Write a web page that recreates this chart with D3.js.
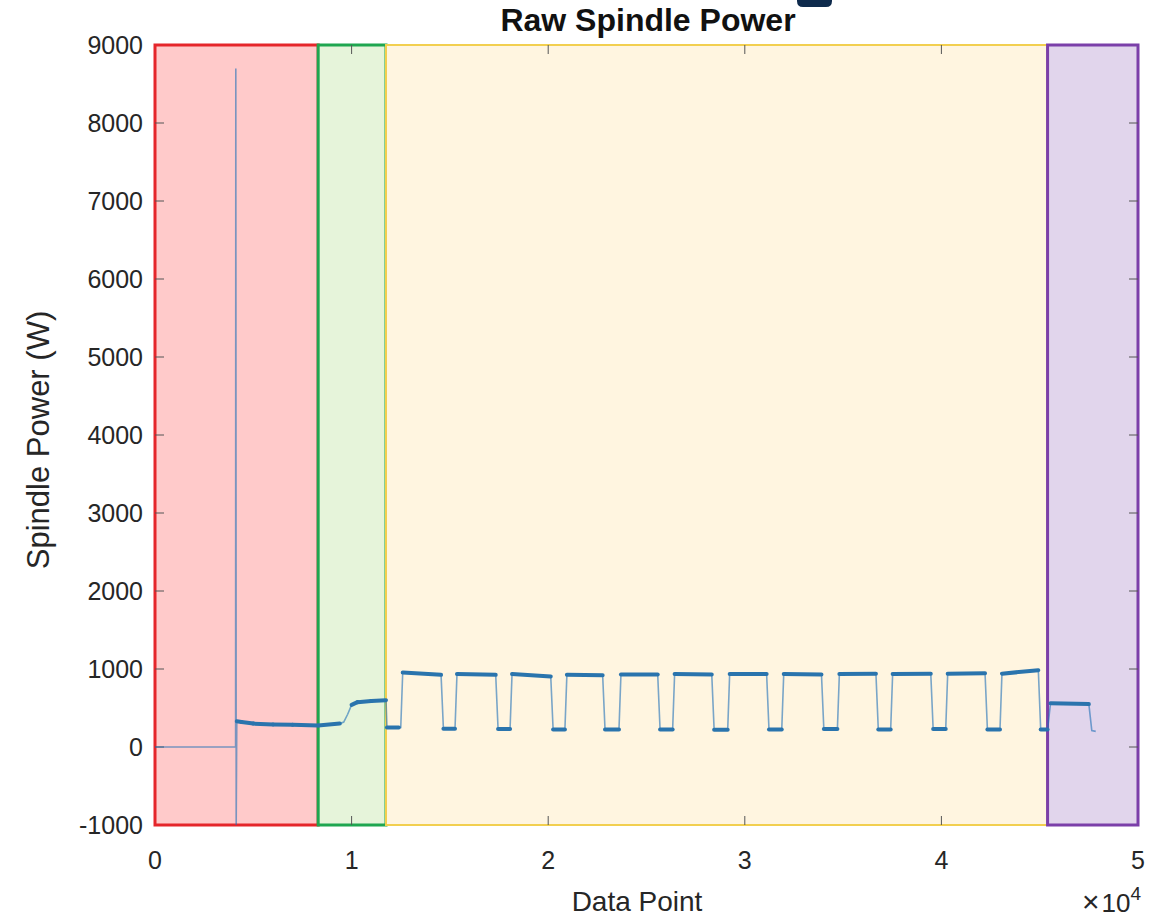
<!DOCTYPE html>
<html><head><meta charset="utf-8">
<script src="https://cdn.jsdelivr.net/npm/d3@7"></script>
<style>body{margin:0;background:#fff}svg{display:block}text{font-family:"Liberation Sans",Arial,sans-serif;fill:#262626}</style>
</head><body>
<script>
// ---- data ----
const titleText = "Raw Spindle Power";
const xLabel = "Data Point";
const yLabel = "Spindle Power (W)";
const xTicks = [0, 10000, 20000, 30000, 40000, 50000];
const yTicks = [-1000, 0, 1000, 2000, 3000, 4000, 5000, 6000, 7000, 8000, 9000];
const regionStart = [0, 8300, 11750, 45400];
const regionEnd   = [8300, 11750, 45400, 50000];
const regionFill  = ["#ffcaca", "#e6f4da", "#fff5e0", "#e1d5ec"];
const regionEdge  = ["#e5262b", "#1fa650", "#f2cf4f", "#7b3fa9"];
// initial segment (idle, spike, warm-up, approach)
const leadX = [0, 4100, 4110, 4130, 4160, 4400, 5000, 6000, 7000, 8300, 9400, 9600, 9800, 10000, 10300, 11000, 11750, 11800, 12400];
const leadY = [0, 0, 8700, -1000, 330, 320, 300, 290, 285, 275, 300, 320, 420, 540, 575, 590, 600, 250, 250];
// cutting pulses
const pulseStart = [12500, 15260, 18060, 20850, 23600, 26330, 29130, 31880, 34710, 37420, 40220, 42980];
const pulseEnd   = [14550, 17330, 20130, 22770, 25570, 28320, 31110, 33900, 36670, 39460, 42220, 44930];
const pulseHighA = [955, 935, 935, 925, 930, 935, 935, 935, 935, 935, 940, 940];
const pulseHighB = [925, 925, 905, 920, 930, 930, 935, 930, 940, 940, 945, 985];
const pulseLow   = [235, 230, 225, 225, 225, 220, 225, 230, 225, 230, 225, 225];
// final segment
const tailX = [45400, 45550, 47500, 47650, 47850];
const tailY = [225, 560, 550, 210, 200];
const noisyFrom = 4160;

// ---- build series ----
const pts = [];
leadX.forEach((x, i) => pts.push([x, leadY[i]]));
pulseStart.forEach((s, i) => {
  pts.push([s, pts[pts.length - 1][1]]);
  pts.push([s + 100, pulseHighA[i]]);
  pts.push([pulseEnd[i], pulseHighB[i]]);
  pts.push([pulseEnd[i] + 120, pulseLow[i]]);
});
tailX.forEach((x, i) => pts.push([x, tailY[i]]));

// ---- chart ----
const W = 1152, H = 919;
const svg = d3.select("body").append("svg").attr("width", W).attr("height", H);
const x = d3.scaleLinear().domain([0, 50000]).range([155, 1138]);
const y = d3.scaleLinear().domain([-1000, 9000]).range([825, 45]);

// regions
regionStart.forEach((s, i) => {
  svg.append("rect").attr("x", x(s)).attr("y", y(9000))
    .attr("width", x(regionEnd[i]) - x(s)).attr("height", y(-1000) - y(9000))
    .attr("fill", regionFill[i]).attr("stroke", regionEdge[i])
    .attr("stroke-width", i === 2 ? 2 : 3);
});

// ticks inside
const tk = svg.append("g").attr("stroke", "#555").attr("stroke-width", 1);
xTicks.slice(1, -1).forEach(v => {
  tk.append("line").attr("x1", x(v)).attr("x2", x(v)).attr("y1", y(-1000)).attr("y2", y(-1000) - 9);
  tk.append("line").attr("x1", x(v)).attr("x2", x(v)).attr("y1", y(9000)).attr("y2", y(9000) + 9);
});
yTicks.slice(1, -1).forEach(v => {
  tk.append("line").attr("x1", x(0)).attr("x2", x(0) + 9).attr("y1", y(v)).attr("y2", y(v));
  tk.append("line").attr("x1", x(50000)).attr("x2", x(50000) - 9).attr("y1", y(v)).attr("y2", y(v));
});

// signal: thin full line
const line = d3.line().x(d => x(d[0])).y(d => y(d[1]));
svg.append("path").datum(pts).attr("d", line).attr("fill", "none")
  .attr("stroke", "#1f6fb8").attr("stroke-opacity", 0.6).attr("stroke-width", 1.6);
// noisy plateaus: thicker
for (let i = 0; i < pts.length - 1; i++) {
  const a = pts[i], b = pts[i + 1];
  if (a[0] < noisyFrom) continue;
  const dx = x(b[0]) - x(a[0]), dy = Math.abs(y(b[1]) - y(a[1]));
  if (dx > 4 && dy / dx < 0.5) {
    svg.append("line").attr("x1", x(a[0])).attr("y1", y(a[1])).attr("x2", x(b[0])).attr("y2", y(b[1]))
      .attr("stroke", "#2a74ad").attr("stroke-width", 4).attr("stroke-linecap", "round");
  }
}

// tick labels
xTicks.forEach(v => {
  svg.append("text").attr("x", x(v)).attr("y", 869).attr("text-anchor", "middle")
    .attr("font-size", 25).text(v / 10000);
});
yTicks.forEach(v => {
  svg.append("text").attr("x", 143).attr("y", y(v) + 9).attr("text-anchor", "end")
    .attr("font-size", 25).text(v);
});
// exponent
const ex = svg.append("text").attr("x", 1141).attr("y", 912).attr("text-anchor", "end").attr("font-size", 26);
ex.append("tspan").attr("font-size", 30).text("\u00d7");
ex.append("tspan").attr("dx", 2).text("10");
ex.append("tspan").attr("dy", -12).attr("font-size", 19).text("4");

// labels
svg.append("text").attr("x", 637).attr("y", 911).attr("text-anchor", "middle").attr("font-size", 28).text(xLabel);
svg.append("text").attr("transform", `translate(49,440) rotate(-90)`).attr("text-anchor", "middle")
  .attr("font-size", 31).text(yLabel);
svg.append("text").attr("x", 648).attr("y", 31).attr("text-anchor", "middle")
  .attr("font-size", 32).attr("font-weight", "bold").style("fill", "#111").text(titleText);

// top decoration tab
svg.append("path").attr("d", "M797,0 L832,0 L832,1 Q832,7 826,7 L803,7 Q797,7 797,1 Z").attr("fill", "#0e2a4c");
</script>
</body></html>
